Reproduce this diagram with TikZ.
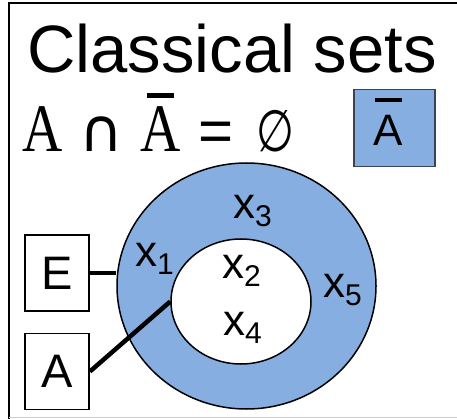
\documentclass[tikz,border=0pt]{standalone}
\usepackage{fontspec}
\setmainfont{Liberation Sans}
\newfontfamily\serifA{Liberation Serif}
\newfontfamily\dejavu{DejaVu Sans}
\usetikzlibrary{shapes.geometric}
\definecolor{setblue}{HTML}{87AEE0}
\definecolor{boxedge}{HTML}{3C4450}
\newcommand\barred[4]{\leavevmode\setbox0\hbox{#1}\rlap{\hbox to \wd0{\hss\raisebox{#3}{\rule{#2}{#4}}\hss}}\box0}
\newcommand\xlab[1]{x\raisebox{-8pt}{\fontsize{30}{30}\selectfont #1}}
\tikzset{
  lab/.style={anchor=base west, inner sep=0pt, font=\fontsize{44}{44}\selectfont},
  letterbox/.style={draw, line width=1.8pt, minimum width=64pt, minimum height=76pt, inner sep=0pt, font=\fontsize{47}{47}\selectfont},
  conn/.style={line width=4.5pt}
}
\begin{document}
\begin{tikzpicture}[x=1pt,y=-1pt]
\useasboundingbox (0,0) rectangle (457,419);
% frame
\draw[line width=2pt] (457,3) -- (9,3) -- (9,419);
\draw[black!20, line width=1pt] (9,417.5) -- (457,417.5);
% title
\node[anchor=base west, inner sep=0pt, font=\fontsize{67}{67}\selectfont] (title) at (27,73) {Classical sets};
% formula
\node[anchor=base west, inner sep=0pt] (formula) at (12.5,152) {%
\makebox[59pt]{\serifA\fontsize{68}{68}\selectfont\scalebox{0.82}[1]{A}}%
\makebox[59pt]{\dejavu\fontsize{60}{60}\selectfont ∩}%
\makebox[59pt]{\barred{\serifA\fontsize{68}{68}\selectfont\scalebox{0.82}[1]{A}}{27pt}{54pt}{5pt}}%
\makebox[53pt]{\fontsize{60}{60}\selectfont =}%
\makebox[66pt]{\dejavu\fontsize{58}{58}\selectfont\scalebox{0.75}[1]{∅}}};
% complement box
\node[draw=boxedge, fill=setblue, line width=1.5pt, minimum width=81pt, minimum height=77pt, inner sep=0pt, anchor=north west] (abarbox) at (353,89) {};
\node[anchor=base, inner sep=0pt, font=\fontsize{44}{44}\selectfont] (abarlabel) at (388.5,146) {\barred{A}{27pt}{44pt}{4pt}};
% sets
\node[ellipse, draw, fill=setblue, line width=1.5pt, minimum width=259pt, minimum height=246pt, inner sep=0pt] (U) at (246.5,286) {};
\node[ellipse, draw, fill=white, line width=1.5pt, minimum width=140pt, minimum height=125pt, inner sep=0pt] (In) at (241,301.5) {};
% labels
\node[lab] (x3) at (233,219) {\xlab{3}};
\node[lab] (x1) at (135,266) {\xlab{1}};
\node[lab] (x2) at (222,279) {\xlab{2}};
\node[lab] (x4) at (223,335) {\xlab{4}};
\node[lab] (x5) at (323,297) {\xlab{5}};
% boxes
\node[letterbox] (E) at (57,273) {E};
\node[letterbox] (A) at (57,371.5) {A};
\draw[conn] (E.east) -- (E.east -| U.west);
\draw[conn] (A.east) -- (In.west);
\end{tikzpicture}
\end{document}
